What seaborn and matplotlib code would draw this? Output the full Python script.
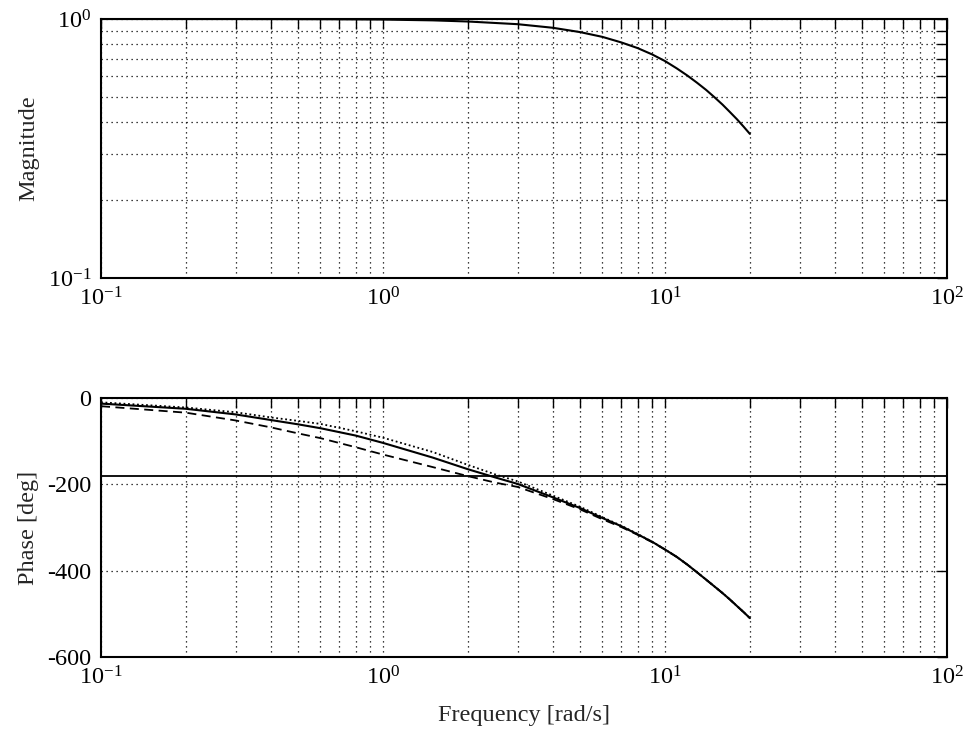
import numpy as np
import pandas as pd
import matplotlib
matplotlib.use("Agg")
import matplotlib.pyplot as plt
import matplotlib.ticker as mticker
import seaborn as sns

# ---------------- data ----------------
freq_mag = [0.1, 0.3, 0.6, 1.0, 1.5, 2.0, 3.0, 4.0, 5.0, 6.0, 7.0, 8.0, 9.0, 10.0,
            11.0, 12.0, 13.0, 14.0, 15.0, 16.0, 17.0, 18.0, 19.0, 20.0]
magnitude = [1.0, 0.9995, 0.998, 0.995, 0.988, 0.978, 0.955, 0.925, 0.89, 0.853, 0.812,
             0.772, 0.73, 0.688, 0.645, 0.605, 0.567, 0.532, 0.498, 0.467, 0.437, 0.41,
             0.384, 0.36]

freq_ph = [0.1, 0.2, 0.3, 0.4, 0.5, 0.6, 0.8, 1.0, 1.5, 2.0, 2.5, 3.0, 4.0, 5.0, 6.0, 7.0,
           8.0, 9.0, 10.0, 11.0, 12.0, 13.0, 14.0, 15.0, 16.0, 17.0, 18.0, 19.0, 20.0]
phase_solid = [-13, -25, -38, -51, -61, -70, -87, -104, -138, -165, -184, -199, -230, -255,
               -278, -297, -316, -333, -351, -368, -386, -404, -421, -437, -452, -467, -482,
               -496, -510]
phase_dotted = [-10, -22, -33, -45, -53, -60, -77, -92, -125, -155, -177, -193, -226, -252,
                -276, -296, -315, -333, -351, -368, -386, -404, -421, -437, -452, -467, -482,
                -496, -510]
phase_dashed = [-19, -34, -52, -68, -82, -93, -114, -131, -160, -181, -196, -206, -234, -258,
                -281, -299, -317, -334, -351, -368, -386, -404, -421, -437, -452, -467, -482,
                -496, -510]
ref_phase = -180

mag_yticks = [0.1, 1.0]
phase_yticks = [0, -200, -400, -600]
phase_yticklabels = ["0", "-200", "-400", "-600"]

# ---------------- style ----------------
sns.set_theme(style="white")
plt.rcParams["font.family"] = ["Liberation Serif", "DejaVu Serif"]
plt.rcParams["mathtext.fontset"] = "custom"
plt.rcParams["mathtext.rm"] = "Liberation Serif"
plt.rcParams["mathtext.it"] = "Liberation Serif:italic"
plt.rcParams["axes.unicode_minus"] = False

FS = 17.5
grid_kw = dict(color="black", linestyle=(0, (1, 3)), linewidth=0.9)

fig = plt.figure(figsize=(9.66, 7.33), dpi=100)
ax1 = fig.add_axes([101 / 966, 1 - 278 / 733, 846 / 966, 259 / 733])
ax2 = fig.add_axes([101 / 966, 1 - 657 / 733, 846 / 966, 259 / 733])

df_mag = pd.DataFrame({"freq": freq_mag, "mag": magnitude})
df_ph = pd.DataFrame({"freq": freq_ph, "solid": phase_solid,
                      "dotted": phase_dotted, "dashed": phase_dashed})

sns.lineplot(data=df_mag, x="freq", y="mag", ax=ax1, color="black", linewidth=1.5)
sns.lineplot(data=df_ph, x="freq", y="dotted", ax=ax2, color="black", linewidth=1.3,
             linestyle=(0, (1, 1.5)))
sns.lineplot(data=df_ph, x="freq", y="dashed", ax=ax2, color="black", linewidth=1.3,
             linestyle=(0, (5, 3)))
sns.lineplot(data=df_ph, x="freq", y="solid", ax=ax2, color="black", linewidth=1.5)
ax2.axhline(ref_phase, color="black", linewidth=1.3)

for ax in (ax1, ax2):
    ax.set_xscale("log")
    ax.set_xlim(0.1, 100)
    ax.xaxis.set_major_locator(mticker.LogLocator(base=10, numticks=10))
    ax.xaxis.set_minor_locator(mticker.LogLocator(base=10, subs=np.arange(2, 10), numticks=20))
    ax.xaxis.set_minor_formatter(mticker.NullFormatter())
    ax.grid(True, which="both", axis="x", **grid_kw)
    ax.tick_params(which="both", direction="in", top=True, right=True,
                   labelsize=FS, colors="black", width=1.0)
    ax.tick_params(which="major", length=7, pad=7)
    ax.tick_params(which="minor", length=7)
    for s in ax.spines.values():
        s.set_color("black")
        s.set_linewidth(1.5)
    ax.set_facecolor("white")

ax1.set_yscale("log")
ax1.set_ylim(0.1, 1.0)
ax1.yaxis.set_major_locator(mticker.FixedLocator(mag_yticks))
ax1.yaxis.set_major_formatter(mticker.LogFormatterSciNotation())
ax1.yaxis.set_minor_locator(mticker.LogLocator(base=10, subs=np.arange(2, 10), numticks=20))
ax1.yaxis.set_minor_formatter(mticker.NullFormatter())
ax1.grid(True, which="both", axis="y", **grid_kw)
ax1.set_xlabel("")
ax1.set_ylabel("Magnitude", fontsize=FS)

ax2.set_ylim(-600, 0)
ax2.set_yticks(phase_yticks)
ax2.set_yticklabels(phase_yticklabels)
ax2.grid(True, which="major", axis="y", **grid_kw)
ax2.set_xlabel("Frequency [rad/s]", fontsize=FS)
ax2.set_ylabel("Phase [deg]", fontsize=FS)

ax1.yaxis.set_label_coords(-0.073, 0.5)
ax2.yaxis.set_label_coords(-0.073, 0.5)
ax2.xaxis.set_label_coords(0.5, -0.185)

fig.savefig("out.png", dpi=100, facecolor="white")
